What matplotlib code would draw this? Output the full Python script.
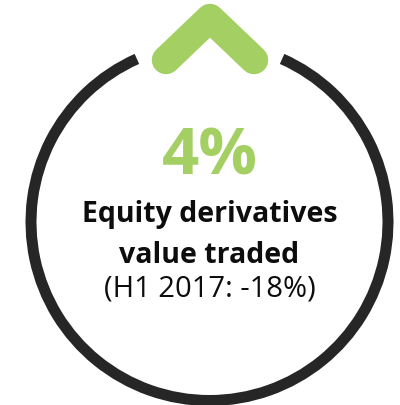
import matplotlib
matplotlib.use("Agg")
import matplotlib.pyplot as plt
from matplotlib.patches import Wedge
from matplotlib.lines import Line2D

# Data
change_value = "4%"
label_lines = ["Equity derivatives", "value traded"]
comparison = "(H1 2017: -18%)"

GREEN = "#A4CF62"
RING = "#262626"

fig = plt.figure(figsize=(4.0, 4.06), dpi=100)
ax = fig.add_axes([0, 0, 1, 1])
ax.set_xlim(0, 400)
ax.set_ylim(406, 0)
ax.set_aspect("auto")
ax.axis("off")

cx, cy, r_out, thick = 209.5, 223, 184, 11
gap = 24
ring = Wedge((cx, cy), r_out, -90 + gap, 270 - gap, width=thick,
             facecolor=RING, edgecolor="none")
ax.add_patch(ring)

# chevron (up arrow)
ax.add_line(Line2D([166, 210, 254], [61, 19, 61], color=GREEN, lw=20.5,
                   solid_capstyle="round", solid_joinstyle="round"))

fam = ["Open Sans", "DejaVu Sans"]
ax.text(cx, 175, change_value, ha="center", va="baseline", fontsize=47,
        fontweight="bold", color=GREEN, family=fam)
ax.text(cx, 222, label_lines[0], ha="center", va="baseline", fontsize=20.5,
        fontweight="bold", color="#0d0d0d", family=fam)
ax.text(cx, 263, label_lines[1], ha="center", va="baseline", fontsize=20.5,
        fontweight="bold", color="#0d0d0d", family=fam)
ax.text(cx, 297, comparison, ha="center", va="baseline", fontsize=21,
        color="#0d0d0d", family=fam)

fig.savefig("out.png", dpi=100)
